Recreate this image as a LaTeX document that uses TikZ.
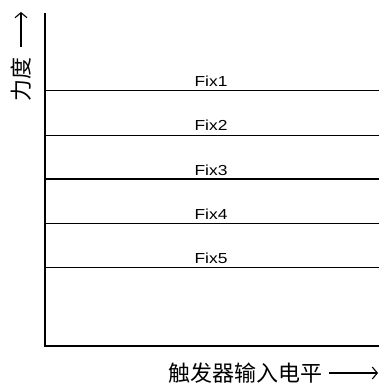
\documentclass[tikz,border=0pt]{standalone}
\usepackage{fontspec}
\setmainfont{Liberation Sans}
\newfontfamily\fixfont[FakeStretch=1.2]{Liberation Sans}
\newfontfamily\cjk{Noto Sans CJK SC}
\usepackage{tikz}
\usetikzlibrary{arrows.meta,positioning,calc}

\begin{document}
\begin{tikzpicture}[x=1pt,y=-1pt,
  axis/.style={line width=2.4pt},
  lvl/.style={line width=1pt},
  lvlbold/.style={line width=2.8pt},
  fixlbl/.style={font=\fixfont\fontsize{14.5}{14.5}\selectfont,anchor=base},
  cjklbl/.style={inner sep=0pt,font=\cjk\fontsize{22}{22}\selectfont},
  lblarr/.style={-{Straight Barb[length=5pt,width=12pt]},line width=1.1pt}]
\useasboundingbox (0,0) rectangle (379,385);
\coordinate (top) at (45,13);
\coordinate (org) at (45,346);
\coordinate (rgt) at (379,346);
\draw[axis] (top) -- (org) -- (rgt);
% levels
\foreach \i/\y in {1/91,2/135,4/223,5/267}
  {\coordinate (l\i) at (45,\y); \coordinate (r\i) at (379,\y);
   \draw[lvl] (l\i) -- (r\i);
   \node[fixlbl] (fix\i) at (211,\y-4) {Fix\i};}
\coordinate (l3) at (45,179); \coordinate (r3) at (379,179);
\draw[lvlbold] (l3) -- (r3);
\node[fixlbl] (fix3) at (211,175) {Fix3};
% axis labels
\node[cjklbl,rotate=90] (ylab) at (21,80) {力度};
\coordinate (ytip) at (21,12);
\draw[lblarr] ([yshift=11pt]ylab.east) -- (ytip);
\node[cjklbl,anchor=west] (xlab) at (168,373) {触发器输入电平};
\coordinate (xtip) at (378,373);
\draw[lblarr] ([xshift=7pt]xlab.east) -- (xtip);
\end{tikzpicture}
\end{document}
